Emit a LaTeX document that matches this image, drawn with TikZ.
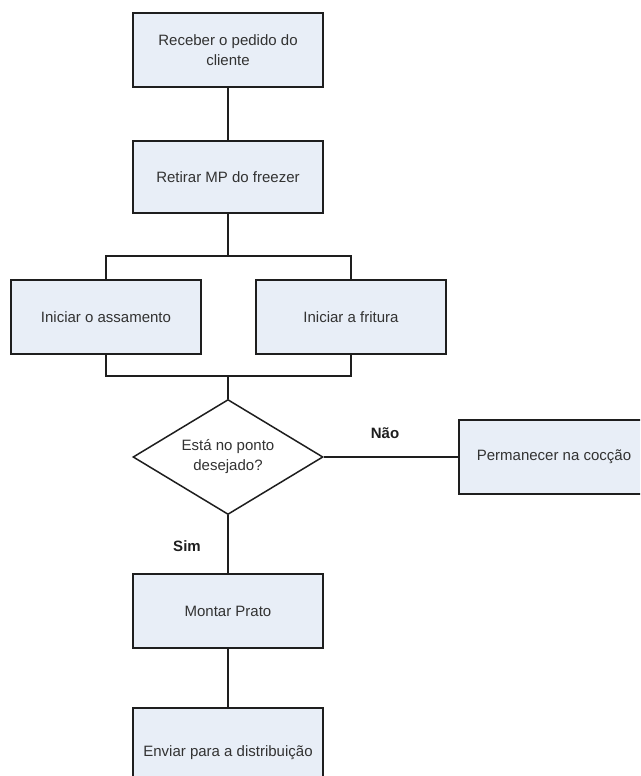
\documentclass[tikz,border=0pt]{standalone}
\usepackage{fontspec}
\setmainfont{Liberation Sans}
\usetikzlibrary{shapes.geometric}
\definecolor{boxfill}{RGB}{232,238,247}
\definecolor{edge}{RGB}{30,30,30}
\definecolor{txt}{RGB}{50,50,50}
\begin{document}
\begin{tikzpicture}[x=1pt,y=-1pt,
  procbox/.style={draw=edge,fill=boxfill,line width=1.5pt,rectangle,minimum width=190pt,minimum height=74pt,inner sep=2pt,align=center,text=txt,font=\fontsize{15}{20}\selectfont},
  decbox/.style={draw=edge,fill=white,line width=1.5pt,diamond,aspect=1.65,minimum width=190pt,minimum height=115pt,inner sep=0pt,align=center,text=txt,font=\fontsize{15}{20}\selectfont},
  conn/.style={draw=edge,line width=1.5pt},
  lbl/.style={font=\bfseries\fontsize{15}{18}\selectfont,text=edge}]
\useasboundingbox (0,0) rectangle (640,776);
\clip (0,0) rectangle (640,776);
\node[procbox] (b1) at (228,50) {Receber o pedido do\\cliente};
\node[procbox,minimum height=72pt] (b2) at (228,177) {Retirar MP do freezer};
\node[procbox] (ba) at (106,317) {Iniciar o assamento};
\node[procbox] (bf) at (351,317) {Iniciar a fritura};
\node[decbox] (d) at (228,457) {Está no ponto\\desejado?};
\node[procbox] (bp) at (554,457) {Permanecer na cocção};
\node[procbox] (bm) at (228,611) {Montar Prato};
\node[procbox,minimum height=90pt] (be) at (228,753) {Enviar para a distribuição};
\coordinate (split) at (228,256);
\coordinate (join) at (228,376);
\draw[conn] (b1.south) -- (b2.north);
\draw[conn] (b2.south) -- (split);
\draw[conn] (ba.north) |- (split) -| (bf.north);
\draw[conn] (ba.south) |- (join) -| (bf.south);
\draw[conn] (join) -- (d.north);
\draw[conn] (d.east) -- (bp.west);
\draw[conn] (d.south) -- (bm.north);
\draw[conn] (bm.south) -- (be.north);
\node[lbl] (nao) at (385,433) {Não};
\node[lbl] (sim) at (187,546) {Sim};
\end{tikzpicture}
\end{document}
